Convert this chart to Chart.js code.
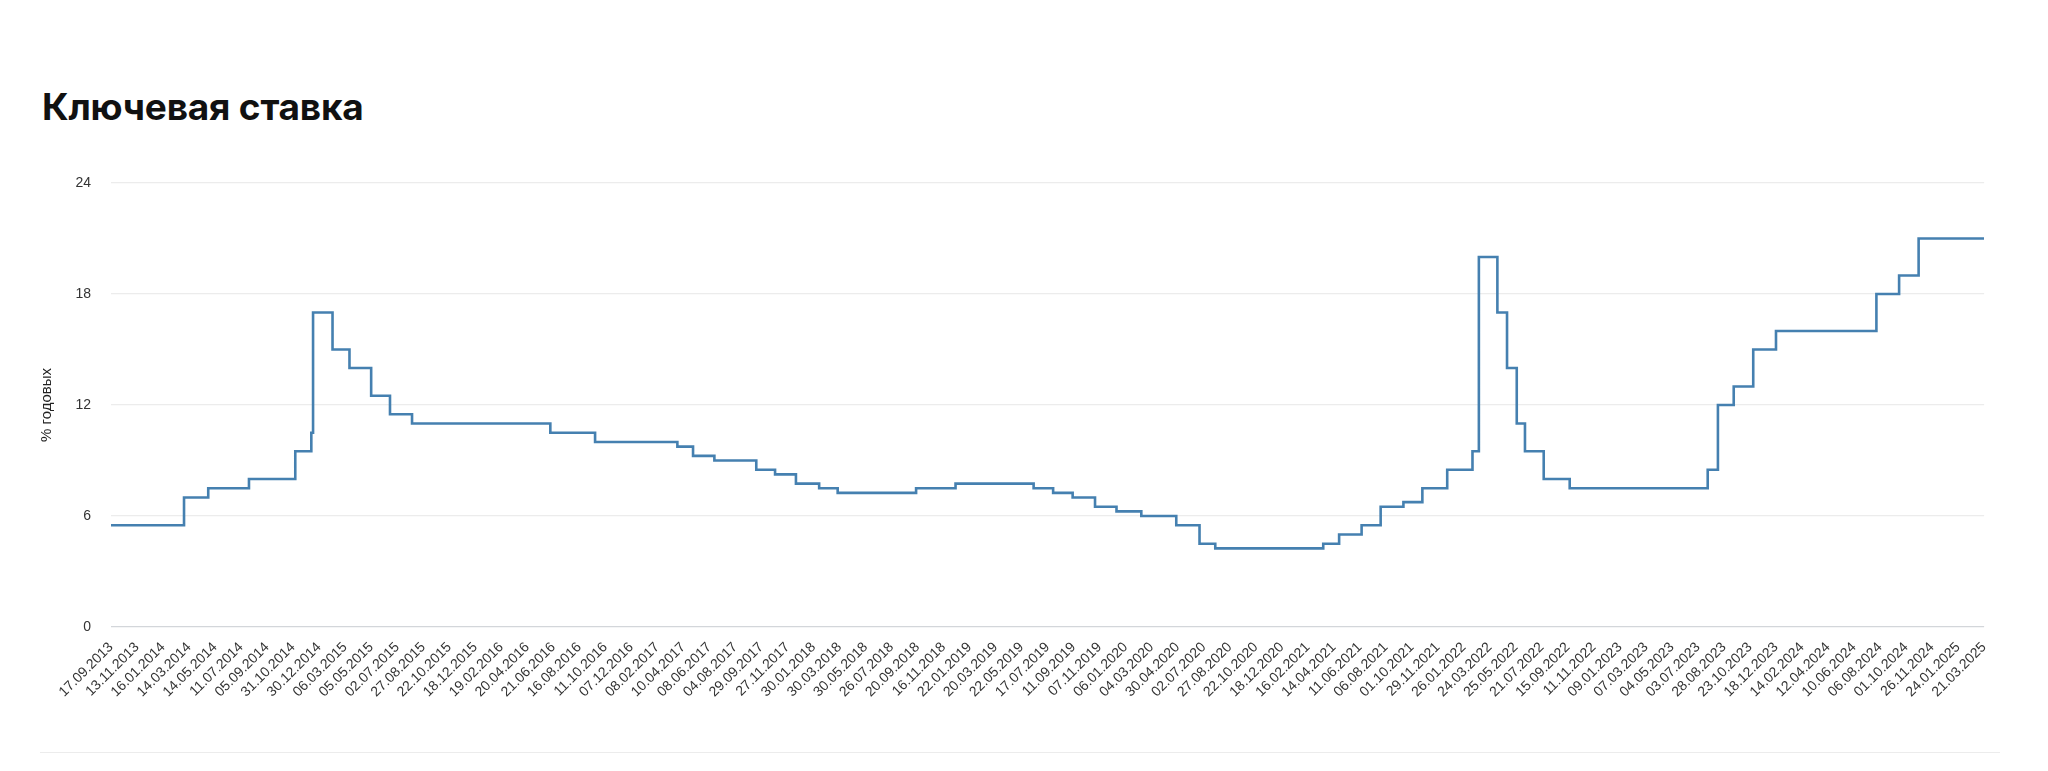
<!DOCTYPE html>
<html lang="ru">
<head>
<meta charset="utf-8">
<title>Ключевая ставка</title>
<script src="https://cdn.jsdelivr.net/npm/chart.js@4.4.1/dist/chart.umd.min.js"></script>
<style>
  html, body { margin: 0; padding: 0; background: #fff; }
  body { width: 2048px; height: 771px; position: relative; overflow: hidden; }
  h2 {
    position: absolute; left: 42px; top: 84px; margin: 0;
    font: 700 37px Inter, "Liberation Sans", sans-serif; color: #111;
    letter-spacing: -0.2px;
  }
  .wrap { position: absolute; left: 30px; top: 150px; width: 1970px; height: 557px; }
  .sep { position: absolute; left: 40px; top: 752px; width: 1960px; height: 1px; background: #ececec; }
</style>
</head>
<body>
<h2>Ключевая ставка</h2>
<div class="wrap"><canvas id="rateChart"></canvas></div>
<div class="sep"></div>
<script>
// подписи оси X (как на исходном графике)
var tickDates = ['17.09.2013', '13.11.2013', '16.01.2014', '14.03.2014', '14.05.2014', '11.07.2014',
    '05.09.2014', '31.10.2014', '30.12.2014', '06.03.2015', '05.05.2015', '02.07.2015', '27.08.2015',
    '22.10.2015', '18.12.2015', '19.02.2016', '20.04.2016', '21.06.2016', '16.08.2016', '11.10.2016',
    '07.12.2016', '08.02.2017', '10.04.2017', '08.06.2017', '04.08.2017', '29.09.2017', '27.11.2017',
    '30.01.2018', '30.03.2018', '30.05.2018', '26.07.2018', '20.09.2018', '16.11.2018', '22.01.2019',
    '20.03.2019', '22.05.2019', '17.07.2019', '11.09.2019', '07.11.2019', '06.01.2020', '04.03.2020',
    '30.04.2020', '02.07.2020', '27.08.2020', '22.10.2020', '18.12.2020', '16.02.2021', '14.04.2021',
    '11.06.2021', '06.08.2021', '01.10.2021', '29.11.2021', '26.01.2022', '24.03.2022', '25.05.2022',
    '21.07.2022', '15.09.2022', '11.11.2022', '09.01.2023', '07.03.2023', '04.05.2023', '03.07.2023',
    '28.08.2023', '23.10.2023', '18.12.2023', '14.02.2024', '12.04.2024', '10.06.2024', '06.08.2024',
    '01.10.2024', '26.11.2024', '24.01.2025', '21.03.2025'];

// даты изменения ставки
var rateDates = ['17.09.2013', '03.03.2014', '28.04.2014', '28.07.2014', '05.11.2014', '12.12.2014',
    '16.12.2014', '02.02.2015', '16.03.2015', '05.05.2015', '16.06.2015', '03.08.2015', '14.06.2016',
    '19.09.2016', '27.03.2017', '02.05.2017', '19.06.2017', '18.09.2017', '30.10.2017', '18.12.2017',
    '12.02.2018', '26.03.2018', '17.09.2018', '17.12.2018', '17.06.2019', '29.07.2019', '09.09.2019',
    '28.10.2019', '16.12.2019', '10.02.2020', '27.04.2020', '22.06.2020', '27.07.2020', '22.03.2021',
    '26.04.2021', '15.06.2021', '26.07.2021', '13.09.2021', '25.10.2021', '20.12.2021', '14.02.2022',
    '28.02.2022', '11.04.2022', '04.05.2022', '27.05.2022', '14.06.2022', '25.07.2022', '19.09.2022',
    '24.07.2023', '15.08.2023', '18.09.2023', '30.10.2023', '18.12.2023', '29.07.2024', '16.09.2024',
    '28.10.2024', '21.03.2025'];

// значение ставки, % годовых
var rateValues = [5.5, 7, 7.5, 8, 9.5, 10.5,
    17, 15, 14, 12.5, 11.5, 11, 10.5,
    10, 9.75, 9.25, 9, 8.5, 8.25, 7.75,
    7.5, 7.25, 7.5, 7.75, 7.5, 7.25, 7,
    6.5, 6.25, 6, 5.5, 4.5, 4.25, 4.5,
    5, 5.5, 6.5, 6.75, 7.5, 8.5, 9.5,
    20, 17, 14, 11, 9.5, 8, 7.5,
    8.5, 12, 13, 15, 16, 18, 19,
    21, 21];

var yTicks = [0, 6, 12, 18, 24];

function parseDate(s) {
    var p = s.split('.');
    return Date.UTC(+p[2], +p[1] - 1, +p[0]);
}

// подписи на исходной оси стоят через равные промежутки рабочих дней,
// поэтому дату переводим в позицию между соседними подписями
var tickTimes = tickDates.map(parseDate);
function datePos(s) {
    var t = parseDate(s);
    for (var i = 0; i < tickTimes.length - 1; i++) {
        if (t <= tickTimes[i + 1]) {
            return i + (t - tickTimes[i]) / (tickTimes[i + 1] - tickTimes[i]);
        }
    }
    return tickTimes.length - 1;
}

var points = rateDates.map(function (d, i) {
    return { x: datePos(d), y: rateValues[i] };
});

var tickFont = { family: '"Liberation Sans", Arial, sans-serif', size: 14 };

new Chart(document.getElementById('rateChart').getContext('2d'), {
    type: 'line',
    data: {
        datasets: [{
            label: 'Ключевая ставка',
            data: points,
            stepped: 'before',
            borderColor: '#4580b0',
            borderWidth: 2.6,
            pointRadius: 0,
            fill: false
        }]
    },
    options: {
        responsive: true,
        maintainAspectRatio: false,
        animation: false,
        layout: { padding: { top: 33, right: 15, left: 0, bottom: 0 } },
        plugins: {
            legend: { display: false },
            tooltip: { enabled: false }
        },
        scales: {
            x: {
                type: 'linear',
                min: 0,
                max: tickDates.length - 1,
                afterBuildTicks: function (scale) {
                    scale.ticks = tickDates.map(function (_, i) { return { value: i }; });
                },
                afterFit: function (scale) { scale.height = 80; },
                grid: { display: false },
                border: { display: false },
                ticks: {
                    autoSkip: false,
                    minRotation: 45,
                    maxRotation: 45,
                    padding: 4,
                    color: '#333',
                    font: tickFont,
                    callback: function (v) { return tickDates[v]; }
                }
            },
            y: {
                min: 0,
                max: 24,
                afterBuildTicks: function (scale) {
                    scale.ticks = yTicks.map(function (v) { return { value: v }; });
                },
                afterFit: function (scale) { scale.width = 81; },
                grid: {
                    drawTicks: false,
                    lineWidth: 1.3,
                    color: function (c) { return c.tick && c.tick.value === 0 ? '#d3d6da' : '#ececec'; }
                },
                border: { display: false },
                ticks: {
                    padding: 20,
                    color: '#333',
                    font: tickFont
                },
                title: {
                    display: true,
                    text: '% годовых',
                    color: '#222',
                    padding: { top: 8, bottom: 0 },
                    font: { family: '"Liberation Sans", Arial, sans-serif', size: 15 }
                }
            }
        }
    }
});
</script>
</body>
</html>
